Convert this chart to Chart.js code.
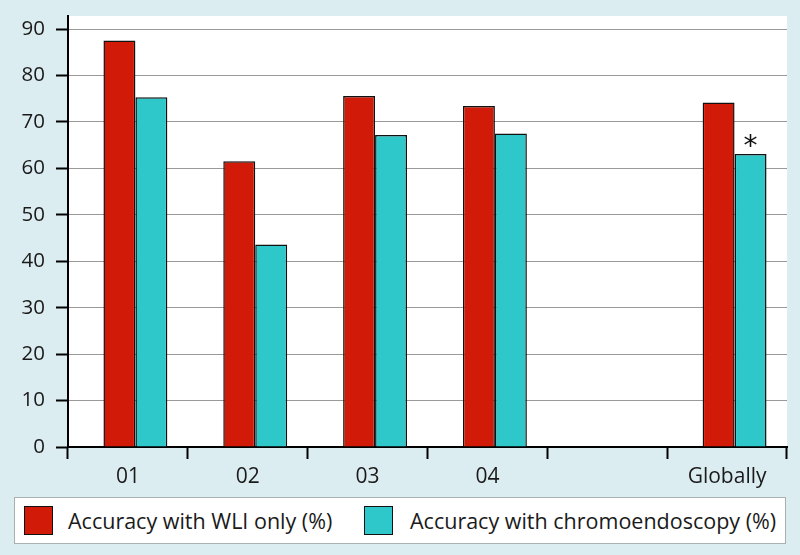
<!DOCTYPE html>
<html>
<head>
<meta charset="utf-8">
<script src="https://cdn.jsdelivr.net/npm/chart.js@4.4.0/dist/chart.umd.min.js"></script>
<style>
  html, body { margin: 0; padding: 0; }
  body { width: 800px; height: 555px; background: #dcedf1; position: relative; overflow: hidden; font-family: "Open Sans", sans-serif; }
  #wrap { position: absolute; left: 0; top: 0; width: 800px; height: 555px; }
  #legend { position: absolute; left: 14px; top: 497px; width: 772px; height: 47px; background: #fff; border: 1px solid #a9b0b2; box-sizing: border-box; }
  .item { position: absolute; top: 0; height: 100%; display: flex; align-items: center; font-size: 21.5px; color: #1a1a1a; }
  .sw { width: 29px; height: 29px; box-sizing: border-box; border: 1.5px solid #111; margin-right: 15px; }
</style>
</head>
<body>
<div id="wrap"><canvas id="c" width="800" height="555"></canvas></div>
<div id="legend"></div>
<script>
const categories = ['01', '02', '03', '04', '', 'Globally'];
const wliOnly = [87.5, 61.5, 75.6, 73.4, null, 74.2];
const chromo = [75.3, 43.6, 67.2, 67.5, null, 63.1];
const chromoMarks = ['', '', '', '', '', '*'];
const seriesNames = ['Accuracy with WLI only (%)', 'Accuracy with chromoendoscopy (%)'];
const yTicks = [0, 10, 20, 30, 40, 50, 60, 70, 80, 90];

const RED = '#d21a08';
const CYAN = '#2ec8cb';
const barShift = 0.0625; // fraction of a category width

const plotBg = {
  id: 'plotBg',
  beforeDraw(chart) {
    const a = chart.chartArea, ctx = chart.ctx;
    ctx.save();
    ctx.fillStyle = '#ffffff';
    ctx.fillRect(a.left, a.top, a.right - a.left, a.bottom - a.top);
    ctx.restore();
  }
};

const shiftBars = {
  id: 'shiftBars',
  afterDatasetsUpdate(chart) {
    const xs = chart.scales.x;
    const cw = xs.getPixelForValue(1) - xs.getPixelForValue(0);
    chart.data.datasets.forEach((d, i) => {
      chart.getDatasetMeta(i).data.forEach(el => { el.x += cw * barShift; });
    });
  }
};

const marks = {
  id: 'marks',
  afterDatasetsDraw(chart) {
    const ctx = chart.ctx;
    const meta = chart.getDatasetMeta(1);
    ctx.save();
    ctx.fillStyle = '#111';
    ctx.font = '28px "DejaVu Sans"';
    ctx.textAlign = 'center';
    ctx.textBaseline = 'alphabetic';
    chromoMarks.forEach((m, i) => {
      if (!m) return;
      const el = meta.data[i];
      ctx.fillText(m, el.x, el.y + 1);
    });
    ctx.restore();
  }
};

const chart = new Chart(document.getElementById('c'), {
  type: 'bar',
  data: {
    labels: categories,
    datasets: [
      { label: seriesNames[0], data: wliOnly, backgroundColor: RED, borderColor: '#111', borderWidth: 1.5 },
      { label: seriesNames[1], data: chromo, backgroundColor: CYAN, borderColor: '#111', borderWidth: 1.5 }
    ]
  },
  options: {
    responsive: false,
    animation: false,
    events: [],
    datasets: { bar: { categoryPercentage: 64 / 120, barPercentage: 1 } },
    layout: { padding: { left: 0, right: 13, top: 16, bottom: 0 } },
    plugins: { legend: { display: false }, tooltip: { enabled: false } },
    scales: {
      x: {
        afterFit(s) { s.height = 108; s.paddingLeft = 0; s.paddingRight = 0; },
        grid: { offset: true, drawOnChartArea: false, drawTicks: true, tickLength: 12, tickColor: '#000', tickWidth: 2 },
        border: { display: true, color: '#000', width: 2 },
        ticks: { color: '#1a1a1a', font: { family: 'Open Sans', size: 21 }, padding: 5, maxRotation: 0, autoSkip: false }
      },
      y: {
        min: 0,
        max: 92.8,
        afterFit(s) { s.width = 68; s.paddingTop = 0; s.paddingBottom = 0; },
        afterBuildTicks(s) { s.ticks = yTicks.map(v => ({ value: v })); },
        grid: { color: '#999', lineWidth: 1, drawTicks: true, tickLength: 12, tickColor: '#000', tickWidth: 2 },
        border: { display: true, color: '#000', width: 2 },
        ticks: { color: '#1a1a1a', font: { family: 'Open Sans', size: 20.5 }, padding: 11 }
      }
    }
  },
  plugins: [plotBg, shiftBars, marks]
});

// HTML legend built from datasets
const legend = document.getElementById('legend');
const lefts = [9, 349];
const gaps = [15, 17];
chart.data.datasets.forEach((ds, i) => {
  const it = document.createElement('div');
  it.className = 'item';
  it.style.left = lefts[i] + 'px';
  const sw = document.createElement('span');
  sw.className = 'sw';
  sw.style.background = ds.backgroundColor;
  sw.style.marginRight = gaps[i] + 'px';
  const tx = document.createElement('span');
  tx.textContent = ds.label;
  it.appendChild(sw); it.appendChild(tx);
  legend.appendChild(it);
});
</script>
</body>
</html>
